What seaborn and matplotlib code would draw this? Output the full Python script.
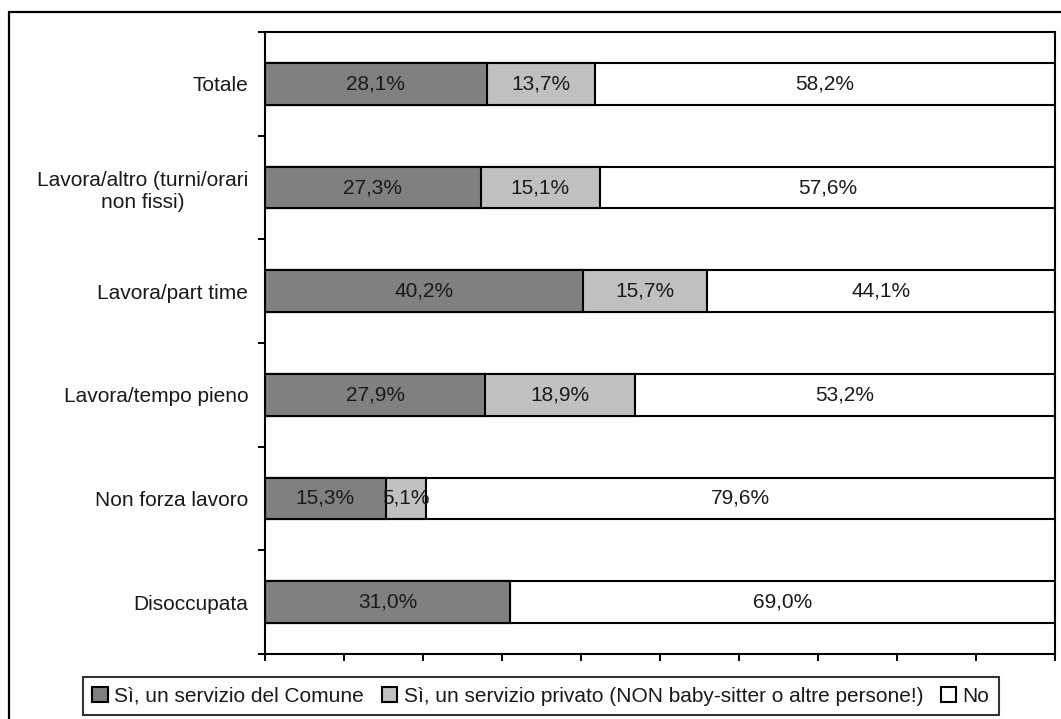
import numpy as np
import pandas as pd
import matplotlib
matplotlib.use("Agg")
import matplotlib.pyplot as plt
import seaborn as sns
from matplotlib.patches import Patch, Rectangle

# dati
categorie = ["Totale", "Lavora/altro (turni/orari\nnon fissi)", "Lavora/part time",
             "Lavora/tempo pieno", "Non forza lavoro", "Disoccupata"]
comune = [28.1, 27.3, 40.2, 27.9, 15.3, 31.0]
privato = [13.7, 15.1, 15.7, 18.9, 5.1, 0.0]
no = [58.2, 57.6, 44.1, 53.2, 79.6, 69.0]
serie = ["Sì, un servizio del Comune",
         "Sì, un servizio privato (NON baby-sitter o altre persone!)", "No"]
colori = ["#808080", "#C0C0C0", "#FFFFFF"]

sns.set_theme(style="white")
plt.rcParams["font.family"] = ["Liberation Sans", "DejaVu Sans"]
FS = 15

df = pd.DataFrame({"cat": categorie, "comune": comune, "privato": privato, "no": no})
df["c1"] = df["comune"]
df["c2"] = df["comune"] + df["privato"]
df["c3"] = df["c2"] + df["no"]

fig = plt.figure(figsize=(10.61, 7.19), dpi=100)
ax = fig.add_axes([265 / 1061, 1 - 654 / 719, 790 / 1061, 622 / 719])

# barre sovrapposte (cumulative) per l'effetto impilato
for col, c in zip(["c3", "c2", "c1"], colori[::-1]):
    sns.barplot(data=df, x=col, y="cat", order=categorie, orient="h", color=c,
                saturation=1, edgecolor="black", linewidth=1.5, width=0.4, ax=ax)

# etichette percentuali
for i in range(len(categorie)):
    start = 0.0
    for v in (comune[i], privato[i], no[i]):
        if v > 0:
            ax.text(start + v / 2, i, f"{v:.1f}%".replace(".", ","),
                    ha="center", va="center", fontsize=FS, color="#1a1a1a")
        start += v

ax.set_xlim(0, 100)
ax.set_ylim(len(categorie) - 0.5, -0.5)
ax.set_xlabel("")
ax.set_ylabel("")
for s in ax.spines.values():
    s.set_visible(True)
    s.set_color("black")
    s.set_linewidth(1.5)

ax.set_xticks(np.arange(0, 101, 10))
ax.set_xticklabels([])
ax.tick_params(axis="x", which="major", direction="out", length=5, width=1.4,
               color="black", bottom=True)
ax.set_yticks(range(len(categorie)))
ax.set_yticklabels(categorie, fontsize=FS, multialignment="center", color="#1a1a1a")
ax.set_yticks(np.arange(-0.5, len(categorie), 1), minor=True)
ax.tick_params(axis="y", which="major", length=0, pad=12)
ax.tick_params(axis="y", which="minor", direction="out", length=5, width=1.4,
               color="black", left=True)

handles = [Patch(facecolor=c, edgecolor="black", linewidth=1.5) for c in colori]
leg = fig.legend(handles, serie, loc="center", bbox_to_anchor=(541 / 1061, 1 - 696 / 719),
                 ncol=3, fontsize=FS, frameon=True, fancybox=False,
                 handlelength=0.75, handleheight=0.75, handletextpad=0.3,
                 columnspacing=0.85, borderpad=0.45, borderaxespad=0)
leg.get_frame().set_edgecolor("black")
leg.get_frame().set_linewidth(1.5)
for t in leg.get_texts():
    t.set_color("#1a1a1a")

# cornice esterna
fig.patches.append(Rectangle((9 / 1061, -0.02), 1.05, 1 - 12 / 719 + 0.02,
                             transform=fig.transFigure, fill=False,
                             edgecolor="black", linewidth=1.6, clip_on=False))

fig.savefig("out.png", dpi=100)
